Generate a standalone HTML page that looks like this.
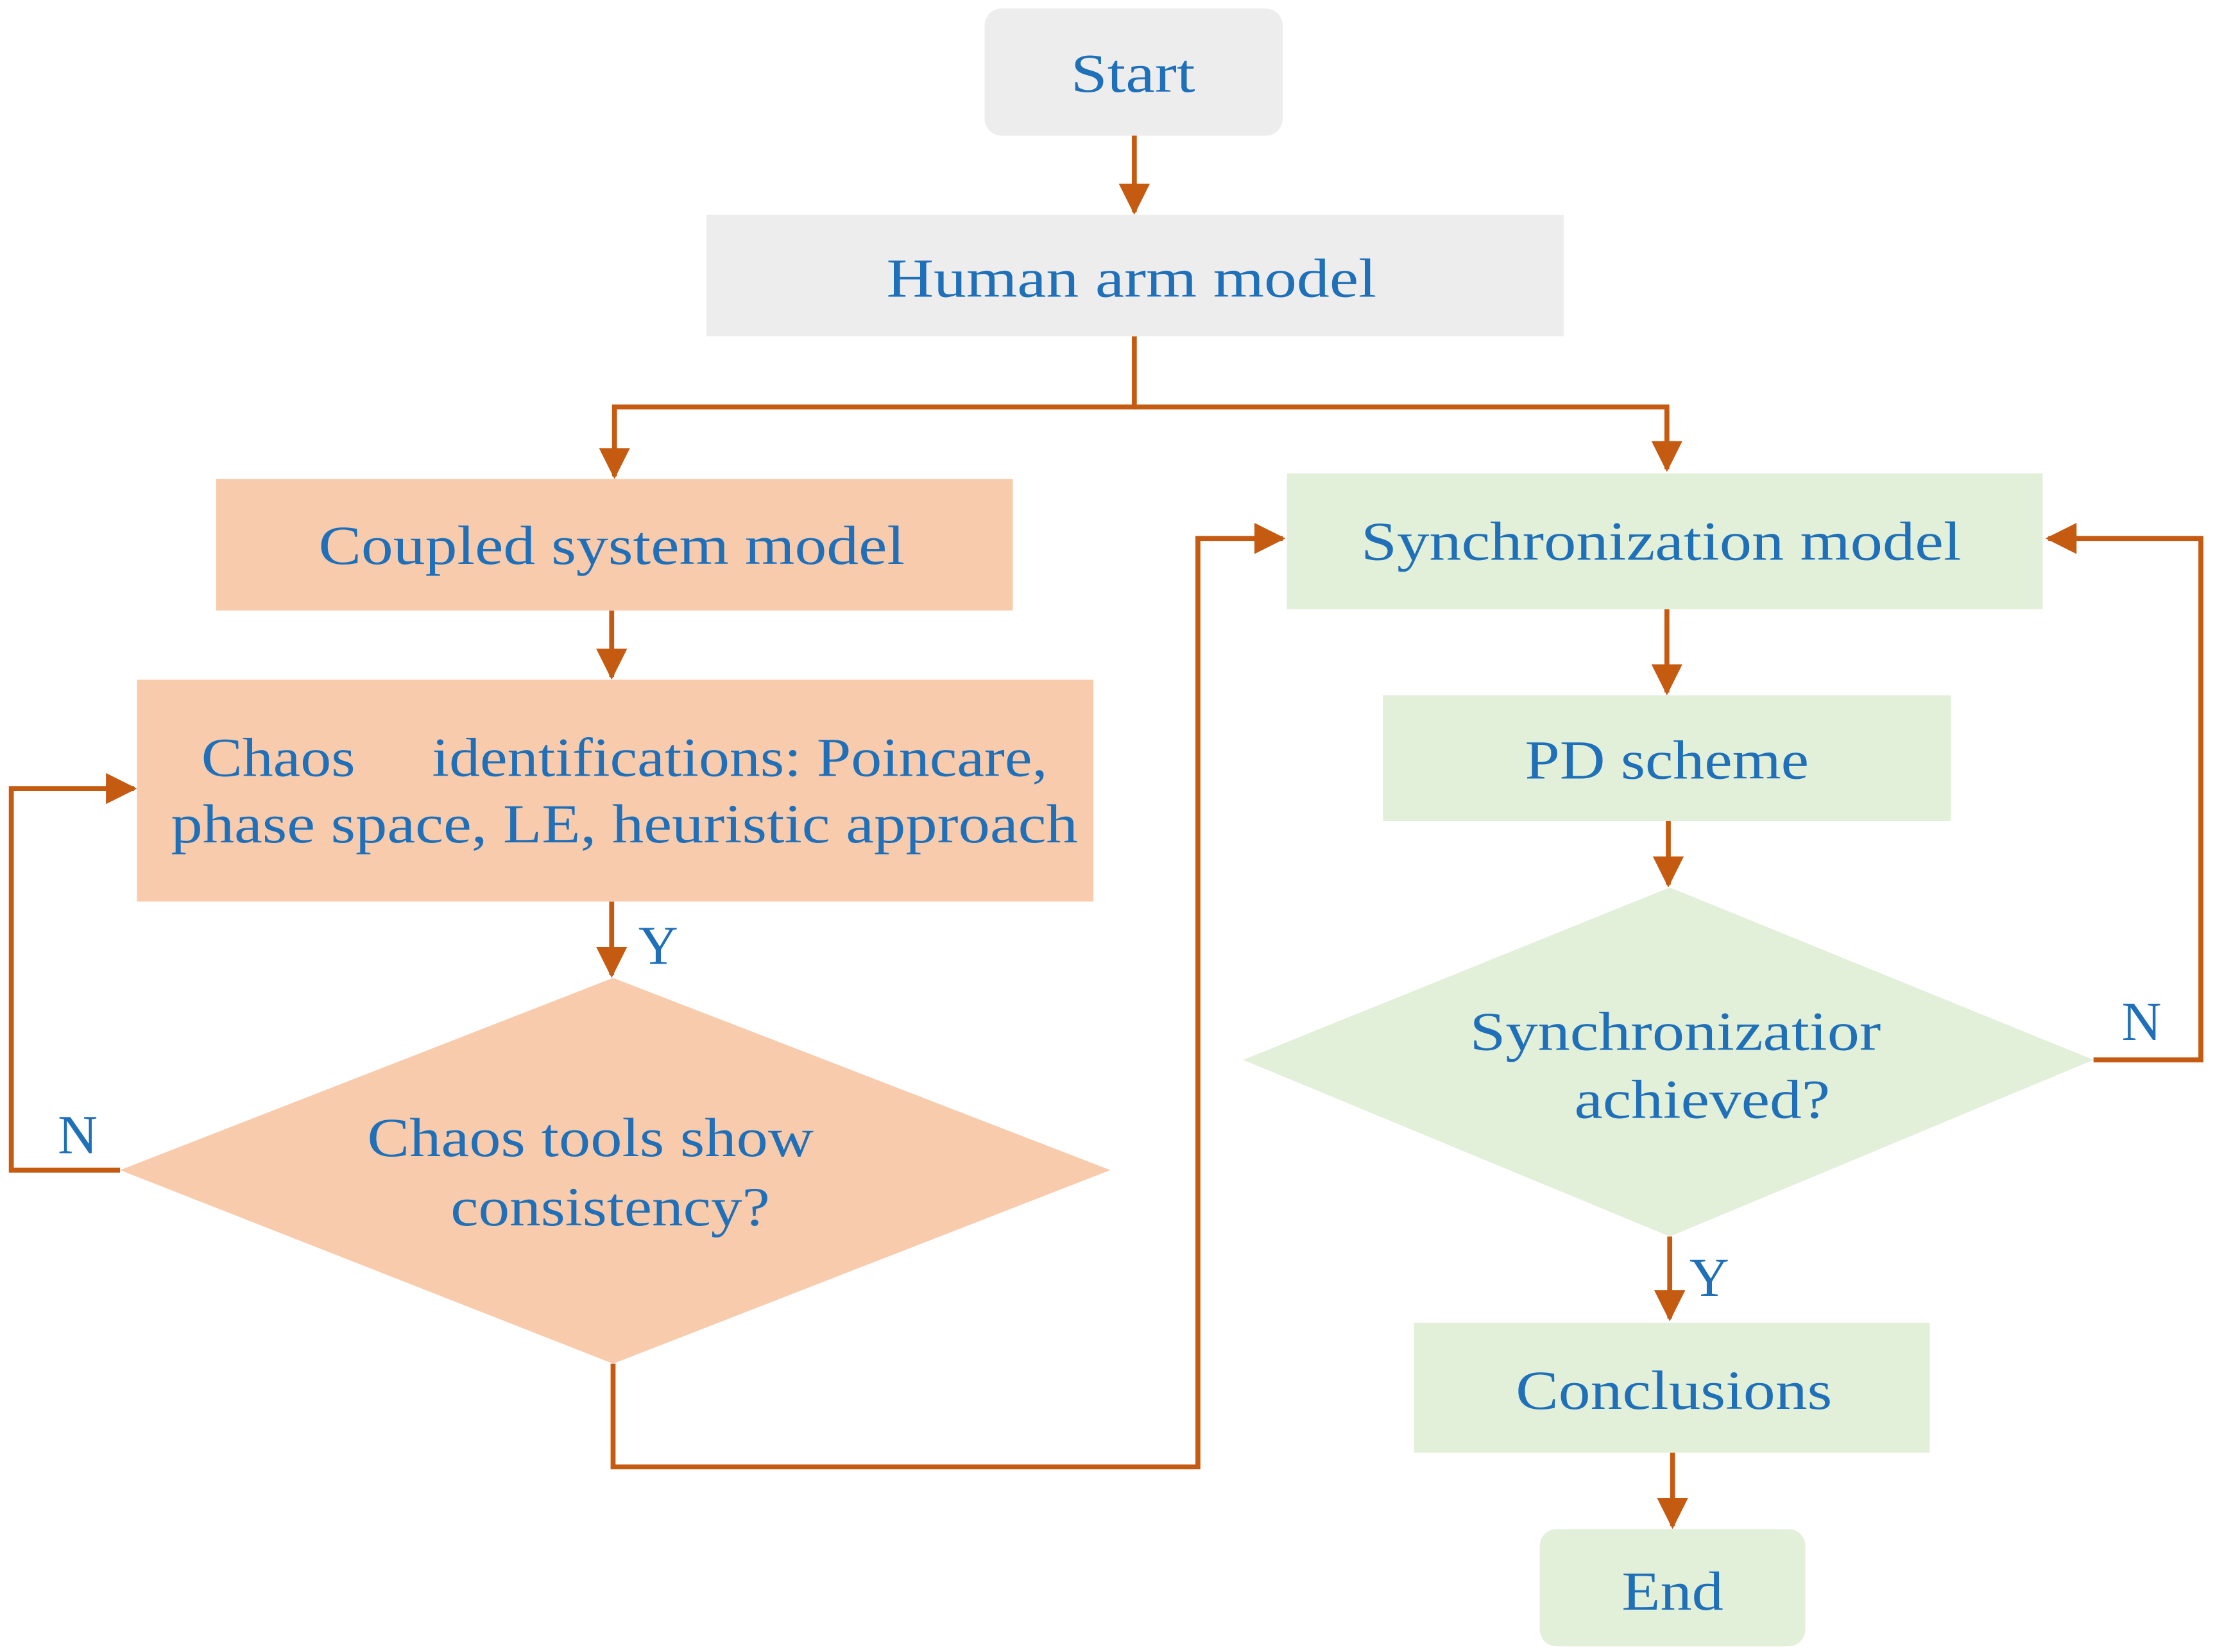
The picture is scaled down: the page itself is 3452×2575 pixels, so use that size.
<!DOCTYPE html>
<html><head><meta charset="utf-8"><style>
html,body{margin:0;padding:0;background:#fff}
svg{display:block}
text{font-family:"Liberation Serif",serif;fill:#1f70b8;font-size:39px;text-anchor:middle}
</style></head><body>
<svg width="3452" height="2575" viewBox="0 0 1568 1169" preserveAspectRatio="none" xmlns="http://www.w3.org/2000/svg">
<defs>
<marker id="b" markerWidth="22" markerHeight="22" refX="20" refY="11" orient="auto" markerUnits="userSpaceOnUse"><path d="M0,0 L22,11 L0,22 Z" fill="#c55a11"/></marker></defs>
<g fill="none" stroke="#c55a11" stroke-width="3.5">
<path d="M803 96 V150" marker-end="url(#b)"/>
<path d="M803 238 V288 H435 V337" marker-end="url(#b)"/>
<path d="M803 288 H1180 V332" marker-end="url(#b)"/>
<path d="M433 432 V479" marker-end="url(#b)"/>
<path d="M433 638 V690" marker-end="url(#b)"/>
<path d="M85 828 H8 V558 H95" marker-end="url(#b)"/>
<path d="M434 965 V1038 H848 V381 H908" marker-end="url(#b)"/>
<path d="M1180 431 V490" marker-end="url(#b)"/>
<path d="M1181 581 V626" marker-end="url(#b)"/>
<path d="M1482 750 H1558 V381 H1450" marker-end="url(#b)"/>
<path d="M1182 875 V933" marker-end="url(#b)"/>
<path d="M1184 1028 V1080" marker-end="url(#b)"/>
</g>
<rect x="697" y="6" width="211" height="90" rx="12" fill="#ededed"/>
<rect x="500" y="152" width="607" height="86" fill="#ededed"/>
<rect x="153" y="339" width="564" height="93" fill="#f8cbad"/>
<rect x="97" y="481" width="677" height="157" fill="#f8cbad"/>
<polygon points="85,828 434,692 786,828 434,965" fill="#f8cbad"/>
<rect x="911" y="335" width="535" height="96" fill="#e2efd9"/>
<rect x="979" y="492" width="402" height="89" fill="#e2efd9"/>
<polygon points="880,750 1182,628 1482,750 1182,875" fill="#e2efd9"/>
<rect x="1001" y="936" width="365" height="92" fill="#e2efd9"/>
<rect x="1090" y="1082" width="188" height="83" rx="12" fill="#e2efd9"/>
<text x="802" y="65" textLength="88" lengthAdjust="spacingAndGlyphs">Start</text>
<text x="801" y="210" textLength="347" lengthAdjust="spacingAndGlyphs">Human arm model</text>
<text x="433" y="399" textLength="415" lengthAdjust="spacingAndGlyphs">Coupled system model</text>
<text x="442" y="549" textLength="599" lengthAdjust="spacingAndGlyphs" xml:space="preserve">Chaos     identifications: Poincare,</text>
<text x="442" y="596" textLength="642" lengthAdjust="spacingAndGlyphs">phase space, LE, heuristic approach</text>
<text x="466" y="682">Y</text>
<text x="418" y="818" textLength="316" lengthAdjust="spacingAndGlyphs">Chaos tools show</text>
<text x="432" y="867" textLength="226" lengthAdjust="spacingAndGlyphs">consistency?</text>
<text x="55" y="816">N</text>
<text x="1176" y="396" textLength="425" lengthAdjust="spacingAndGlyphs">Synchronization model</text>
<text x="1180" y="551" textLength="201" lengthAdjust="spacingAndGlyphs">PD scheme</text>
<text x="1186" y="743" textLength="291" lengthAdjust="spacingAndGlyphs">Synchronizatior</text>
<text x="1205" y="791" textLength="181" lengthAdjust="spacingAndGlyphs">achieved?</text>
<text x="1516" y="736">N</text>
<text x="1210" y="917">Y</text>
<text x="1185" y="997" textLength="224" lengthAdjust="spacingAndGlyphs">Conclusions</text>
<text x="1184" y="1139" textLength="72" lengthAdjust="spacingAndGlyphs">End</text>
</svg>
</body></html>
